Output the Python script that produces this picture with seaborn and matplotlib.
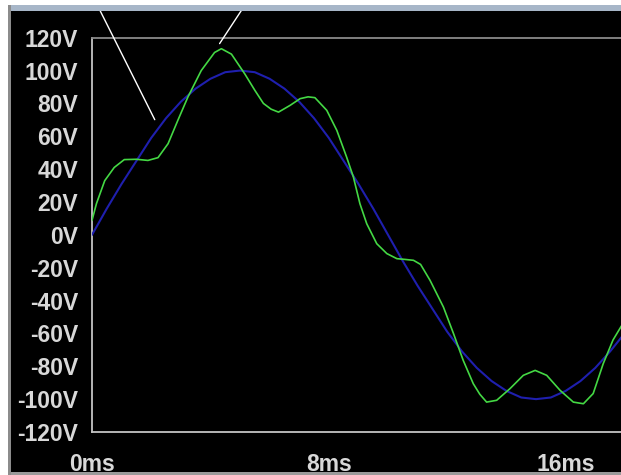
import numpy as np
import pandas as pd
import seaborn as sns
import matplotlib.pyplot as plt
from matplotlib.patches import Rectangle
from matplotlib.transforms import blended_transform_factory

# blue trace: sampled every 0.5 ms, last point at the right edge
blue_t = [0, 0.5, 1, 1.5, 2, 2.5, 3, 3.5, 4, 4.5, 5, 5.5, 6, 6.5, 7, 7.5, 8, 8.5,
          9, 9.5, 10, 10.5, 11, 11.5, 12, 12.5, 13, 13.5, 14, 14.5, 15, 15.5,
          16, 16.5, 17, 17.5, 17.9]
blue_v = [0, 16, 31, 45, 59, 71, 81, 89, 95, 99, 100, 99, 95, 89, 81, 71, 59, 45,
          31, 16, 0, -16, -31, -45, -59, -71, -81, -89, -95, -99, -100, -99,
          -95, -89, -81, -71, -62]

# green trace
green_t = [0, 0.15, 0.43, 0.75, 1.09, 1.5, 1.89, 2.23, 2.57, 2.9, 3.24, 3.69, 4.14,
           4.37, 4.71, 5.16, 5.5, 5.79, 6.05, 6.3, 6.69, 7.03, 7.3, 7.53, 7.93,
           8.27, 8.6, 8.83, 9.05, 9.28, 9.62, 9.96, 10.3, 10.6, 10.86, 11.1,
           11.42, 11.87, 12.21, 12.54, 12.88, 13.1, 13.33, 13.67, 14.12, 14.57,
           14.97, 15.36, 15.81, 16.26, 16.6, 16.93, 17.27, 17.6, 17.9]
green_v = [8.8, 19, 33, 41, 45.8, 46, 45.3, 47, 55.5, 69.7, 83.9, 100, 111,
           113.3, 110, 98, 88, 80, 76.5, 74.7, 78.8, 82.9, 84, 83.5, 75.8,
           63.6, 47.4, 35.2, 19, 6.8, -5.4, -11.4, -14.5, -15, -15.5, -18,
           -27.7, -43.9, -60, -76.4, -90.6, -97, -101.8, -100.7, -93.6, -85.5,
           -82.5, -85.5, -94.6, -101.8, -102.8, -96.6, -78.4, -64, -55]

y_ticks = list(range(-120, 121, 20))
y_labels = [f"{v}V" for v in y_ticks]
x_ticks = [0, 8, 16]
x_labels = ["0ms", "8ms", "16ms"]

# the two white cursor lines (start above the plot, end on the traces)
cursor_t = [[0.1, 2.12], [5.27, 4.31]]
cursor_v = [[142.7, 70.1], [142.7, 116.4]]

sns.set_theme(style="dark")
plt.rcParams['font.family'] = ['Liberation Sans', 'DejaVu Sans']

fg = "#d8d8d8"
fig = plt.figure(figsize=(6.21, 4.75), dpi=100, facecolor="black")
ax = fig.add_axes([92 / 621, 43 / 475, 1 - 92 / 621, (432 - 37.7) / 475])
ax.set_facecolor("black")

blue = pd.DataFrame({"t": blue_t, "v": blue_v})
green = pd.DataFrame({"t": green_t, "v": green_v})
sns.lineplot(data=blue, x="t", y="v", ax=ax, color="#1f1fae", lw=1.5, zorder=3)
sns.lineplot(data=green, x="t", y="v", ax=ax, color="#44d844", lw=1.2, zorder=4)

for ts, vs in zip(cursor_t, cursor_v):
    ax.plot(ts, vs, color="white", lw=1.0, clip_on=False, zorder=6)

ax.set_xlim(0, 17.87)
ax.set_ylim(-120, 120)
ax.set_xticks(x_ticks)
ax.set_xticklabels(x_labels)
ax.set_yticks(y_ticks)
ax.set_yticklabels(y_labels)
ax.set_xlabel("")
ax.set_ylabel("")
ax.grid(False)

for side in ["left", "bottom", "top"]:
    ax.spines[side].set_visible(True)
    ax.spines[side].set_color("#c4c4c4")
    ax.spines[side].set_linewidth(1.3)
ax.spines["right"].set_visible(False)
ax.spines["top"].set_color("#8a8a8a")

ax.tick_params(axis="y", direction="out", length=10, width=1.3, color="#c4c4c4",
               pad=0, labelsize=16.5, labelcolor=fg)
ax.tick_params(axis="x", direction="out", length=10, width=1.3, color="#c4c4c4",
               pad=5, labelsize=16.5, labelcolor=fg)
for lab in ax.get_xticklabels() + ax.get_yticklabels():
    lab.set_fontweight("bold")

# window chrome: white strips, blue title band, bottom ruler
H, W = 475, 621
chrome = [((0, 1 - 5 / H), 1, 5 / H, "white"),
          ((0, 1 - 11 / H), 1, 6 / H, "#a7b6c8"),
          ((0, 0), 8 / W, 1, "white"),
          ((8 / W, 0), 3 / W, 1 - 5 / H, "#8c8c8c"),
          ((11 / W, 0), 1 - 11 / W, 3 / H, "#9a9a9a")]
for xy, w, h, c in chrome:
    fig.patches.append(Rectangle(xy, w, h, transform=fig.transFigure,
                                 facecolor=c, linewidth=0, zorder=0))
trans = blended_transform_factory(ax.transData, fig.transFigure)
ax.vlines(np.arange(-2, 18), 0, 3 / H, transform=trans, color="black", lw=1.2,
          clip_on=False)

fig.savefig("out.png", dpi=100, facecolor="black")
